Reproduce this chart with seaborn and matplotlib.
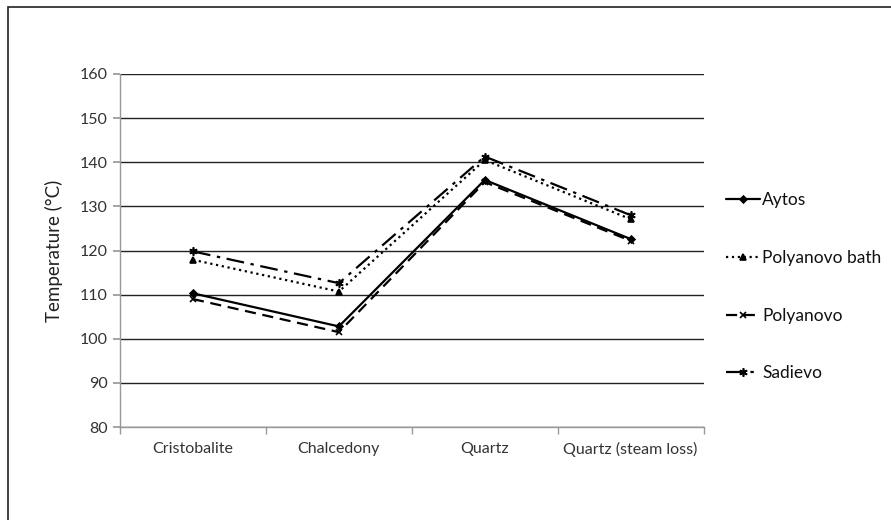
import matplotlib
matplotlib.use('Agg')
import matplotlib.pyplot as plt
import numpy as np
import pandas as pd
import seaborn as sns
from matplotlib.patches import Rectangle

categories = ['Cristobalite', 'Chalcedony', 'Quartz', 'Quartz (steam loss)']
aytos = [110.3, 102.8, 136.0, 122.6]
polyanovo_bath = [117.9, 110.7, 140.5, 127.1]
polyanovo = [109.0, 101.5, 135.5, 122.2]
sadievo = [119.8, 112.6, 141.3, 128.0]

series = [
    ('Aytos', aytos, '-', 'D', 3.5),
    ('Polyanovo bath', polyanovo_bath, ':', '^', 5),
    ('Polyanovo', polyanovo, (0, (5, 3)), 'x', 5),
    ('Sadievo', sadievo, (0, (8, 3, 1.5, 3)), (6, 2, 0), 6),
]

sns.set_theme(style='white')
plt.rcParams['font.family'] = ['Lato', 'DejaVu Sans']

fig = plt.figure(figsize=(8.91, 5.2), dpi=100)
ax = fig.add_axes([0.1347, 0.1788, 0.655, 0.6789])

for name, vals, ls, mk, ms in series:
    df = pd.DataFrame({'cat': categories, 'temp': vals})
    sns.lineplot(data=df, x='cat', y='temp', ax=ax, color='black', linestyle=ls,
                 marker=mk, markersize=ms, markeredgecolor='black', markeredgewidth=1.2,
                 linewidth=1.6, label=name, sort=False)

ax.set_xlim(-0.5, 3.5)
ax.set_ylim(80, 160)
ax.set_yticks(np.arange(80, 161, 10))
ax.yaxis.grid(True, color='#222222', linewidth=1.0)
ax.set_axisbelow(True)
ax.set_xlabel('')
ax.set_ylabel('Temperature (°C)', fontsize=13.5, labelpad=12, color='#222222')

for s in ['top', 'right']:
    ax.spines[s].set_visible(False)
for s in ['left', 'bottom']:
    ax.spines[s].set_color('#999999')
    ax.spines[s].set_linewidth(1.0)

ax.tick_params(axis='y', which='major', direction='out', length=5, color='#999999',
               labelsize=11.5, labelcolor='#333333', left=True, pad=4)
ax.tick_params(axis='x', which='major', length=0, labelsize=11.5, labelcolor='#333333', pad=11)
ax.set_xticks(np.arange(-0.5, 3.6, 1.0), minor=True)
ax.tick_params(axis='x', which='minor', direction='out', length=5, color='#999999', bottom=True)

ax.get_legend().remove()
handles, labels = ax.get_legend_handles_labels()
fig.legend(handles, labels, loc='upper left', bbox_to_anchor=(0.797, 0.66),
           frameon=False, fontsize=12.5, labelspacing=2.4, handlelength=2.0,
           handletextpad=0.1, labelcolor='#111111')

fig.patches.append(Rectangle((0.009, -0.1), 1.2, 1.087, transform=fig.transFigure,
                             fill=False, edgecolor='#222222', linewidth=1.2))

fig.savefig('out.png', dpi=100)
